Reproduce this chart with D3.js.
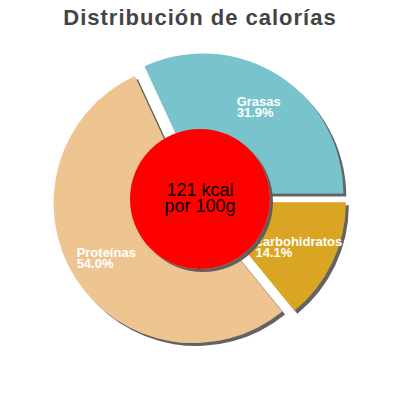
<!DOCTYPE html>
<html>
<head>
<meta charset="utf-8">
<script src="https://cdn.jsdelivr.net/npm/d3@7"></script>
<style>
  html, body { margin: 0; padding: 0; background: #fff; }
  svg { display: block; }
</style>
</head>
<body>
<svg id="chart" width="400" height="400"></svg>
<script>
const title = "Distribución de calorías";
const categories = ["Grasas", "carbohidratos", "Proteínas"];
const percents = [31.9, 14.1, 54.0];
const colors = ["#79c3cc", "#daa520", "#eec591"];
const centerLines = ["121 kcal", "por 100g"];

const W = 400, H = 400;
const cx = 199.5, cy = 199.3, R = 140, explode = 7, innerR = 70, labelR = 103;

const svg = d3.select("#chart");

const defs = svg.append("defs");
const f = defs.append("filter").attr("id", "shadow")
  .attr("x", "-20%").attr("y", "-20%").attr("width", "140%").attr("height", "140%");
f.append("feDropShadow").attr("dx", 3).attr("dy", 3).attr("stdDeviation", 0.6)
  .attr("flood-color", "#5a5a5a").attr("flood-opacity", 0.95);

svg.append("text")
  .attr("x", W / 2).attr("y", 25)
  .attr("text-anchor", "middle")
  .attr("font-family", "Liberation Sans, Arial, sans-serif")
  .attr("font-weight", "bold").attr("font-size", 22)
  .attr("letter-spacing", 1)
  .attr("fill", "#444")
  .text(title);

const data = categories.map((c, i) => ({ name: c, value: percents[i], color: colors[i] }));
const total = d3.sum(percents);
const start = Math.PI / 2 - (percents[0] / total) * 2 * Math.PI;

const pie = d3.pie().sort(null).value(d => d.value)
  .startAngle(start).endAngle(start + 2 * Math.PI);
const arcs = pie(data);

const arc = d3.arc().innerRadius(0).outerRadius(R);
const unit = d3.arc().innerRadius(1).outerRadius(1);
const labelArc = d3.arc().innerRadius(labelR).outerRadius(labelR);

const g = svg.append("g").attr("transform", `translate(${cx},${cy})`);

const slices = g.selectAll("g.slice").data(arcs).enter().append("g")
  .attr("class", "slice")
  .attr("transform", d => {
    const [ux, uy] = unit.centroid(d);
    return `translate(${ux * explode},${uy * explode})`;
  });

slices.append("path")
  .attr("d", arc)
  .attr("fill", d => d.data.color)
  .attr("filter", "url(#shadow)");

svg.append("circle")
  .attr("cx", 200).attr("cy", 199).attr("r", innerR)
  .attr("fill", "#ff0000")
  .attr("filter", "url(#shadow)");

centerLines.forEach((t, i) => {
  svg.append("text")
    .attr("text-anchor", "middle")
    .attr("font-family", "Liberation Sans, Arial, sans-serif")
    .attr("font-size", 18).attr("fill", "#000")
    .attr("x", 200).attr("y", 196 + i * 16)
    .text(t);
});

slices.each(function(d) {
  const [lx, ly] = labelArc.centroid(d);
  const sel = d3.select(this);
  const mk = (txt, y) => sel.append("text")
    .attr("font-family", "Liberation Sans, Arial, sans-serif")
    .attr("font-size", 13).attr("font-weight", "bold").attr("fill", "#fff")
    .attr("y", y).text(txt);
  const l1 = mk(d.data.name, ly - 0.7);
  const l2 = mk(d.data.value.toFixed(1) + "%", ly + 10.3);
  const w = Math.max(l1.node().getComputedTextLength(), l2.node().getComputedTextLength());
  l1.attr("x", lx - w / 2);
  l2.attr("x", lx - w / 2);
});
</script>
</body>
</html>
